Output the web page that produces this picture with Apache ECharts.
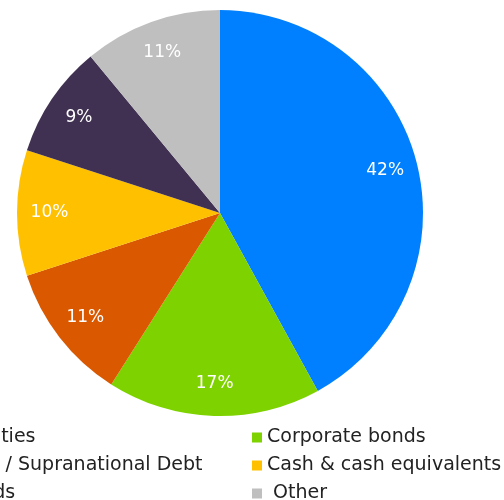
<!DOCTYPE html>
<html>
<head>
<meta charset="utf-8">
<style>
  html, body { margin: 0; padding: 0; background: #ffffff; }
  #chart { width: 504px; height: 500px; }
</style>
<script src="https://cdn.jsdelivr.net/npm/echarts@6/dist/echarts.min.js"></script>
</head>
<body>
<div id="chart"></div>
<script>
// Portfolio allocation by asset class (percent of total)
const categories = [
  'Listed securities',
  'Corporate bonds',
  'Government / Supranational Debt',
  'Cash & cash equivalents',
  'Agency bonds',
  ' Other'
];
const shares = [42, 17, 11, 10, 9, 11];
const colors = ['#0080FF', '#7ED200', '#D95800', '#FFC000', '#403152', '#BFBFBF'];

// legend columns: left column holds items 0, 2, 4; right column 1, 3, 5
const leftColumn = [categories[0], categories[2], categories[4]];
const rightColumn = [categories[1], categories[3], categories[5]];

const pieData = categories.map((name, i) => ({
  name: name,
  value: shares[i],
  itemStyle: { color: colors[i] }
}));

const legendItems = names => names.map(n => ({
  name: n,
  itemStyle: { color: colors[categories.indexOf(n)] }
}));

const FONT = 'DejaVu Sans';
const CENTER = [220, 213];
const RADIUS = 203;

const legendBase = {
  orient: 'vertical',
  icon: 'rect',
  itemWidth: 10,
  itemHeight: 10,
  itemGap: 9,
  padding: 0,
  height: 120,
  selectedMode: false,
  textStyle: { fontFamily: FONT, fontSize: 19, color: '#222222', lineHeight: 18 }
};

const chart = echarts.init(document.getElementById('chart'), null, { renderer: 'canvas' });
chart.setOption({
  backgroundColor: '#ffffff',
  animation: false,
  legend: [
    Object.assign({}, legendBase, { left: 252, top: 428, data: legendItems(rightColumn) }),
    Object.assign({}, legendBase, { left: -134, top: 428, data: legendItems(leftColumn) })
  ],
  series: [
    {
      type: 'pie',
      center: CENTER,
      radius: [0, RADIUS],
      startAngle: 90,
      clockwise: true,
      label: { show: false },
      labelLine: { show: false },
      emphasis: { disabled: true },
      data: pieData
    },
    {
      // ring used only to place the percentage labels at ~82% of the radius
      type: 'pie',
      center: CENTER,
      radius: [132, RADIUS],
      startAngle: 90,
      clockwise: true,
      silent: true,
      legendHoverLink: false,
      itemStyle: { color: 'rgba(0,0,0,0)' },
      emphasis: { disabled: true },
      labelLine: { show: false },
      label: {
        show: true,
        position: 'inside',
        formatter: p => p.value + '%',
        color: '#ffffff',
        fontFamily: FONT,
        fontSize: 17
      },
      data: categories.map((name, i) => ({ name: name, value: shares[i] }))
    }
  ]
});
</script>
</body>
</html>
